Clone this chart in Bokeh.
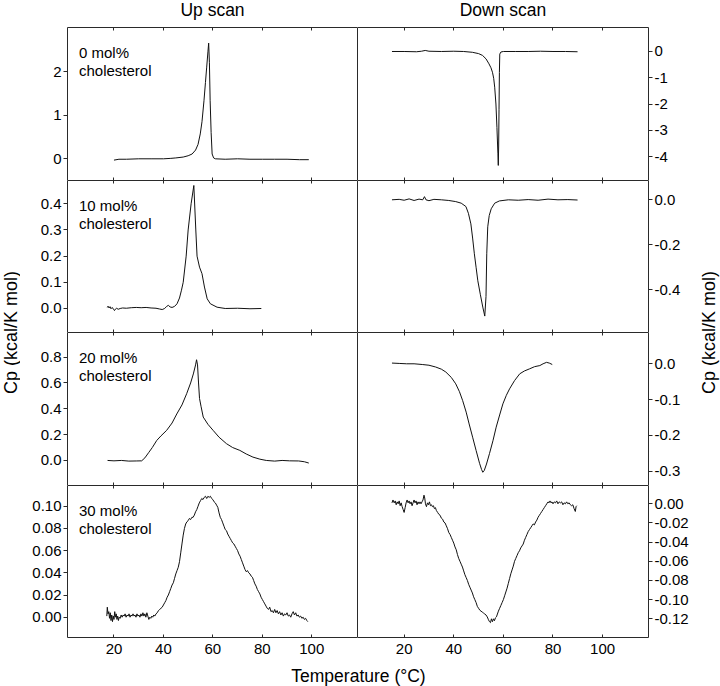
import math
from bokeh.plotting import figure
from bokeh.models import Range1d, LinearAxis, FixedTicker, NumeralTickFormatter
from bokeh.layouts import gridplot, row, column
from bokeh.core.properties import value
from bokeh.embed import file_html
from bokeh.resources import INLINE

FONT = "Liberation Sans"
LINE = "#2a2a2a"

# ---------------- data ----------------
X_RANGE = (1.2, 118.5)
X_TICKS = [20, 40, 60, 80, 100]

col_titles = ["Up scan", "Down scan"]
panel_labels = ["0 mol%", "10 mol%", "20 mol%", "30 mol%"]
y_label = "Cp (kcal/K mol)"
x_label = "Temperature (\u00b0C)"

# 0 mol% up scan
t_up0 = [20, 22, 25, 30, 35, 40, 43, 45, 48, 50, 51.6, 53, 54, 54.9, 55.6, 56.4, 57.0, 57.5,
         58.0, 58.3, 58.6, 58.9, 59.3, 59.7, 60.3, 61, 65, 70, 75, 80, 85, 90, 95, 98.8]
cp_up0 = [-0.03, -0.01, -0.01, 0.0, 0.0, 0.0, 0.01, 0.02, 0.04, 0.07, 0.11, 0.2, 0.33, 0.57, 0.85,
          1.33, 1.75, 2.1, 2.45, 2.65, 2.2, 1.33, 0.6, 0.11, 0.02, 0.0, -0.01, 0.0, -0.01, -0.01,
          -0.01, -0.01, -0.02, -0.02]

# 0 mol% down scan
t_dn0 = [15.1, 20, 25, 27, 28.5, 30, 35, 40, 44, 47.5, 50, 51.6, 53, 54.2, 55, 55.6, 56.1, 56.5,
         57.0, 57.4, 57.8, 57.95, 58.1, 58.25, 58.4, 58.55, 59, 60, 65, 70, 75, 80, 85, 89.9]
cp_dn0 = [0.0, 0.0, -0.01, 0.01, 0.04, 0.01, 0.0, 0.01, 0.0, -0.03, -0.08, -0.15, -0.28, -0.47,
          -0.62, -0.79, -1.02, -1.36, -2.0, -2.89, -3.9, -4.34, -3.6, -2.2, -0.8, -0.1, -0.02,
          0.0, 0.0, 0.0, 0.01, 0.0, 0.0, -0.01]

# 10 mol% up scan
t_up10 = [17.3, 17.6, 18.0, 18.4, 18.8, 19.3, 19.8, 20.2, 20.6, 21.1, 21.7, 22.5, 23.5, 25, 27,
          29, 31, 33, 35, 37, 38.5, 39.5, 40.5, 41.3, 42, 42.7, 43.5, 44.5, 45.5, 46.5, 47.3,
          48.0, 49.2, 50.0, 51.2, 52.3, 53.1, 53.6, 54.6, 55.6, 56.6, 57.7, 59.0, 61.7, 65, 70,
          75, 79.6]
cp_up10 = [0.004, 0.009, 0.002, 0.007, -0.001, 0.004, -0.003, -0.008, -0.002, 0.001, -0.003, 0.0,
           0.002, 0.001, 0.003, 0.004, 0.003, 0.004, 0.002, 0.001, -0.002, -0.004, 0.0, 0.008,
           0.012, 0.006, 0.004, 0.008, 0.018, 0.04, 0.07, 0.1, 0.2, 0.3, 0.4, 0.47, 0.3, 0.2,
           0.158, 0.133, 0.082, 0.037, 0.018, 0.005, 0.0, 0.001, -0.001, 0.0]

# 10 mol% down scan
t_dn10 = [15.1, 18, 20, 22, 24, 26, 27.5, 28.2, 28.8, 30, 32, 35, 38, 40.8, 43, 44.9, 45.9, 46.9,
          47.6, 48.3, 49.0, 49.7, 50.7, 51.7, 52.5, 53.0, 53.3, 53.7, 54.3, 55.1, 56.5, 58.4, 62,
          66, 70, 74, 78, 82, 86, 89.9]
cp_dn10 = [0.0, 0.002, -0.002, 0.004, -0.003, 0.003, 0.0, 0.014, 0.0, -0.004, 0.002, 0.0, -0.003,
           -0.008, -0.015, -0.03, -0.06, -0.107, -0.17, -0.24, -0.3, -0.36, -0.42, -0.477,
           -0.517, -0.43, -0.24, -0.12, -0.07, -0.04, -0.015, -0.005, 0.0, -0.002, 0.001, -0.002,
           0.003, 0.0, 0.001, -0.001]

# 20 mol% up scan
t_up20 = [17.4, 20, 23, 26, 29, 31.2, 32.5, 34, 35.5, 37.3, 39, 41.3, 43.5, 45.4, 47.5, 49.4, 51,
          52.1, 53, 53.4, 53.8, 54.2, 54.6, 55.2, 56.1, 58, 60.1, 62.5, 65.5, 68, 70.9, 73.5,
          76.2, 79, 81.6, 85, 88, 91, 94.7, 97, 98.8]
cp_up20 = [0.0, -0.003, 0.0, -0.005, -0.004, -0.003, 0.02, 0.06, 0.1, 0.155, 0.19, 0.233, 0.29,
           0.36, 0.43, 0.517, 0.6, 0.67, 0.74, 0.78, 0.74, 0.6, 0.48, 0.42, 0.336, 0.28, 0.233,
           0.18, 0.13, 0.1, 0.078, 0.05, 0.026, 0.01, 0.0, -0.005, 0.0, -0.003, -0.004, -0.01,
           -0.02]

# 20 mol% down scan
t_dn20 = [15.1, 18, 21, 24, 27.3, 30, 32.7, 35, 36.8, 39, 40.8, 42.3, 43.6, 45, 46.2, 47.6, 49.0,
          50.4, 51.2, 51.7, 52.3, 53.2, 54.4, 55.8, 57.1, 58.5, 59.8, 61.2, 62.5, 64.5, 66.6,
          68.5, 70.6, 72.6, 74.7, 76, 77.4, 78.5, 79.7]
cp_dn20 = [0.002, 0.001, 0.0, 0.0, -0.002, -0.004, -0.009, -0.015, -0.023, -0.038, -0.056,
           -0.078, -0.103, -0.135, -0.168, -0.205, -0.242, -0.278, -0.295, -0.303, -0.298, -0.28,
           -0.251, -0.215, -0.177, -0.143, -0.112, -0.088, -0.07, -0.047, -0.028, -0.02, -0.014,
           -0.008, -0.005, 0.0, 0.004, 0.002, -0.002]

# 30 mol% up scan
t_up30 = [17.1, 17.3, 17.6, 17.9, 18.2, 18.5, 18.8, 19.1, 19.4, 19.7, 20.0, 20.3, 20.6, 20.9,
          21.2, 21.5, 21.8, 22.1, 22.5, 22.9, 23.3, 23.7, 24.1, 24.5, 24.9, 25.3, 25.7, 26.1,
          26.5, 26.9, 27.3, 27.7, 28.1, 28.5, 28.9, 29.3, 29.7, 30.1, 30.5, 30.9, 31.3, 31.7,
          32.1, 32.5, 32.9, 33.3, 33.7, 34.1, 34.5, 34.9, 35.3, 35.7, 36.1, 36.5, 37.0, 37.5,
          38.0, 38.5, 39.0, 39.5, 40.0, 40.5, 41.0, 41.5, 42.0, 42.5, 43.0, 43.5, 44.0, 44.5,
          45.0, 45.5, 46.0, 46.5, 47.0, 47.5, 48.0, 48.5, 49.0, 49.5, 50.0, 50.5, 51.0, 51.5,
          52.0, 52.5, 53.0, 53.5, 54.0, 54.5, 55.0, 55.5, 56.0, 56.5, 57.0, 57.5, 58.0, 58.5,
          59.0, 59.5, 60.0, 60.5, 61.0, 61.5, 62.0, 62.5, 63.0, 63.5, 64.0, 64.5, 65.0, 65.5,
          66.0, 66.5, 67.0, 67.5, 68.0, 68.5, 69.0, 69.5, 70.0, 70.5, 71.0, 71.5, 72.0, 72.5,
          73.0, 73.5, 74.0, 74.5, 75.0, 75.5, 76.0, 76.5, 77.0, 77.5, 78.0, 78.5, 79.0, 79.5,
          80.0, 80.5, 81.0, 81.5, 82.0, 82.5, 83.0, 83.5, 84.0, 84.5, 85.0, 85.5, 86.0, 86.5,
          87.0, 87.5, 88.0, 88.5, 89.0, 89.5, 90.0, 90.5, 91.0, 91.5, 92.0, 92.5, 93.0, 93.5,
          94.0, 94.5, 95.0, 95.5, 96.0, 96.5, 97.0, 97.5, 98.0, 98.4]
cp_up30 = [0.001, 0.009, 0.003, 0.005, -0.001, 0.004, -0.003, 0.002, -0.004, 0.001, -0.002, 0.005,
           0.0, 0.003, -0.002, 0.001, -0.003, 0.0, -0.001, 0.002, 0.0, 0.002, 0.001, 0.003, 0.0,
           0.002, 0.001, 0.003, 0.0, 0.002, 0.001, 0.003, 0.001, 0.002, 0.0, 0.003, 0.001, 0.002,
           0.0, 0.003, 0.001, 0.004, 0.001, 0.003, 0.0, 0.004, 0.001, -0.002, 0.0, -0.001, 0.001,
           0.0, 0.002, 0.001, 0.003, 0.004, 0.006, 0.007, 0.008, 0.009, 0.011, 0.013, 0.015,
           0.018, 0.02, 0.023, 0.026, 0.029, 0.031, 0.035, 0.039, 0.042, 0.045, 0.05, 0.058,
           0.066, 0.074, 0.08, 0.084, 0.086, 0.087, 0.089, 0.088, 0.09, 0.09, 0.092, 0.095, 0.097,
           0.1, 0.103, 0.105, 0.107, 0.106, 0.108, 0.109, 0.107, 0.109, 0.108, 0.109, 0.107,
           0.106, 0.104, 0.103, 0.101, 0.099, 0.094, 0.09, 0.088, 0.085, 0.082, 0.079, 0.078,
           0.075, 0.073, 0.071, 0.069, 0.067, 0.066, 0.064, 0.062, 0.06, 0.057, 0.055, 0.052,
           0.049, 0.046, 0.043, 0.041, 0.042, 0.04, 0.039, 0.037, 0.036, 0.033, 0.03, 0.028,
           0.025, 0.023, 0.021, 0.018, 0.016, 0.014, 0.012, 0.01, 0.008, 0.007, 0.009, 0.005,
           0.006, 0.004, 0.007, 0.004, 0.006, 0.003, 0.005, 0.002, 0.004, 0.001, 0.003, 0.002,
           0.004, 0.001, 0.002, 0.0, 0.003, 0.005, 0.002, 0.004, 0.001, 0.002, 0.0, 0.001,
           -0.001, 0.0, -0.002, -0.001, -0.003, -0.004]

# 30 mol% down scan
t_dn30 = [15.1, 15.5, 16.0, 16.4, 16.8, 17.2, 17.6, 18.0, 18.4, 18.8, 19.2, 19.6, 20.0, 20.4,
          20.8, 21.2, 21.6, 22.0, 22.4, 22.8, 23.2, 23.6, 24.0, 24.4, 24.8, 25.2, 25.6, 26.0,
          26.4, 26.8, 27.2, 27.6, 28.0, 28.3, 28.6, 29.0, 29.4, 29.8, 30.2, 30.6, 31.0, 31.4,
          31.8, 32.2, 32.6, 33.0, 33.5, 34.0, 34.5, 35.0, 35.5, 36.0, 36.5, 37.0, 37.5, 38.0,
          38.5, 39.0, 39.5, 40.0, 40.5, 41.0, 41.5, 42.0, 42.5, 43.0, 43.5, 44.0, 44.5, 45.0,
          45.5, 46.0, 46.5, 47.0, 47.5, 48.0, 48.5, 49.0, 49.5, 50.0, 50.5, 51.0, 51.5, 52.0,
          52.5, 53.0, 53.5, 54.0, 54.4, 54.8, 55.2, 55.6, 56.0, 56.4, 56.8, 57.2, 57.6, 58.0,
          58.5, 59.0, 59.5, 60.0, 60.5, 61.0, 61.5, 62.0, 62.5, 63.0, 63.5, 64.0, 64.5, 65.0,
          65.5, 66.0, 66.5, 67.0, 67.5, 68.0, 68.5, 69.0, 69.5, 70.0, 70.5, 71.0, 71.5, 72.0,
          72.5, 73.0, 73.5, 74.0, 74.5, 75.0, 75.5, 76.0, 76.5, 77.0, 77.5, 78.0, 78.4, 78.8,
          79.2, 79.6, 80.0, 80.5, 81.0, 81.5, 82.0, 82.5, 83.0, 83.5, 84.0, 84.5, 85.0, 85.5,
          86.0, 86.5, 87.0, 87.5, 88.0, 88.5, 89.0, 89.3, 89.6]
cp_dn30 = [0.001, 0.004, 0.001, 0.003, -0.001, 0.002, 0.0, 0.003, -0.002, 0.001, -0.003, -0.006,
           -0.009, -0.004, 0.001, 0.004, 0.001, 0.003, 0.0, 0.002, -0.002, 0.001, 0.004, 0.001,
           0.003, -0.001, 0.002, 0.0, 0.002, 0.0, 0.002, 0.004, 0.009, 0.006, 0.0, -0.003, 0.001,
           -0.001, 0.002, -0.002, -0.001, -0.003, -0.002, -0.005, -0.004, -0.007, -0.009, -0.011,
           -0.012, -0.015, -0.016, -0.019, -0.02, -0.023, -0.026, -0.03, -0.032, -0.035, -0.038,
           -0.041, -0.045, -0.048, -0.053, -0.057, -0.06, -0.063, -0.066, -0.07, -0.074, -0.077,
           -0.08, -0.084, -0.087, -0.09, -0.093, -0.097, -0.1, -0.103, -0.107, -0.109, -0.111,
           -0.112, -0.113, -0.114, -0.115, -0.116, -0.118, -0.121, -0.123, -0.124, -0.12, -0.123,
           -0.12, -0.122, -0.119, -0.118, -0.115, -0.112, -0.109, -0.106, -0.103, -0.1, -0.096,
           -0.092, -0.088, -0.083, -0.078, -0.073, -0.069, -0.065, -0.06, -0.057, -0.054, -0.051,
           -0.049, -0.046, -0.044, -0.042, -0.038, -0.035, -0.032, -0.029, -0.027, -0.025,
           -0.023, -0.021, -0.022, -0.019, -0.017, -0.014, -0.012, -0.01, -0.008, -0.006, -0.004,
           -0.002, 0.0, 0.002, 0.001, 0.003, 0.001, 0.002, 0.0, 0.002, 0.001, 0.003, 0.0, 0.002,
           0.001, 0.002, -0.001, 0.001, 0.0, 0.002, 0.0, 0.001, -0.001, -0.002, -0.001, -0.005,
           -0.008, -0.003, -0.002]

# axis ranges / ticks per panel: (up scan, down scan) for each row
y_ranges = [((-0.497, 3.008), (-4.914, 0.914)),
            ((-0.0917, 0.489), (-0.590, 0.0858)),
            ((-0.194, 0.991), (-0.340, 0.0874)),
            ((-0.0183, 0.1187), (-0.1395, 0.0191))]
y_ticks = [([0, 1, 2], [0, -1, -2, -3, -4]),
           ([0.0, 0.1, 0.2, 0.3, 0.4], [0.0, -0.2, -0.4]),
           ([0.0, 0.2, 0.4, 0.6, 0.8], [0.0, -0.1, -0.2, -0.3]),
           ([0.0, 0.02, 0.04, 0.06, 0.08, 0.10], [0.0, -0.02, -0.04, -0.06, -0.08, -0.10, -0.12])]
y_formats = [("0", "0"), ("0.0", "0.0"), ("0.0", "0.0"), ("0.00", "0.00")]
series = [((t_up0, cp_up0), (t_dn0, cp_dn0)),
          ((t_up10, cp_up10), (t_dn10, cp_dn10)),
          ((t_up20, cp_up20), (t_dn20, cp_dn20)),
          ((t_up30, cp_up30), (t_dn30, cp_dn30))]

# ---------------- layout ----------------
FRAME_H = [153, 152, 153, 152]
FRAME_W = [290, 291]
B_LEFT = 47
B_RIGHT = 50
B_BOTTOM = 25
HEADER_H = 27
FOOTER_H = 24
YLAB_L_W = 20
YLAB_R_W = 22


def blank(w, h):
    f = figure(width=w, height=h, x_range=Range1d(0, w), y_range=Range1d(0, h),
               output_backend="svg", toolbar_location=None,
               x_axis_location=None, y_axis_location=None,
               min_border=0, outline_line_color=None)
    f.grid.grid_line_color = None
    return f


def bare_axis(ticks, line_color, tick_in=3):
    return LinearAxis(ticker=FixedTicker(ticks=ticks), major_tick_in=tick_in, major_tick_out=0,
                      major_label_text_color=None, major_label_text_font_size="1px",
                      major_label_standoff=0, axis_line_color=line_color,
                      major_tick_line_color=LINE, minor_tick_line_color=None)


def panel(r, c):
    left = c == 0
    bottom = r == 3
    fw = FRAME_W[c]
    fh = FRAME_H[r]
    bl = B_LEFT if left else 0
    br = 0 if left else B_RIGHT
    bb = B_BOTTOM if bottom else 0
    yr = y_ranges[r][c]
    p = figure(width=fw + bl + br, height=fh + bb,
               x_range=Range1d(*X_RANGE), y_range=Range1d(*yr),
               output_backend="svg", toolbar_location=None,
               x_axis_location=None, y_axis_location=None,
               min_border_left=bl, min_border_right=br, min_border_top=0,
               min_border_bottom=bb, outline_line_color=None,
               background_fill_color="white", border_fill_color="white")
    p.grid.grid_line_color = None
    xs, ys = series[r][c]
    p.line(xs, ys, line_color="#111111", line_width=1)

    # top edge with inward ticks
    p.add_layout(bare_axis(X_TICKS, LINE), "above")
    # bottom edge
    if bottom:
        bot_ax = LinearAxis(ticker=FixedTicker(ticks=X_TICKS), major_tick_in=3, major_tick_out=0,
                            formatter=NumeralTickFormatter(format="0"),
                            major_label_text_font=FONT, major_label_text_font_size="15px",
                            major_label_text_color="black", major_label_standoff=6,
                            axis_line_color=LINE, major_tick_line_color=LINE,
                            minor_tick_line_color=None)
        p.add_layout(bot_ax, "below")
    else:
        p.add_layout(bare_axis(X_TICKS, None), "below")
    if not left:
        # shared vertical edge between the two columns
        p.add_layout(bare_axis([], LINE, tick_in=0), "left")
    y_ax = LinearAxis(ticker=FixedTicker(ticks=y_ticks[r][c]),
                      formatter=NumeralTickFormatter(format=y_formats[r][c]),
                      major_tick_in=0, major_tick_out=4, major_label_standoff=2,
                      major_label_text_font=FONT, major_label_text_font_size="15px",
                      major_label_text_color="black",
                      axis_line_color=LINE, major_tick_line_color=LINE,
                      minor_tick_line_color=None)
    p.add_layout(y_ax, "left" if left else "right")

    # panel label
    if left:
        xl = X_RANGE[0] + 11.5 * (X_RANGE[1] - X_RANGE[0]) / fw
        y1 = yr[1] - 24.5 * (yr[1] - yr[0]) / fh
        y2 = yr[1] - 42.5 * (yr[1] - yr[0]) / fh
        p.text(x=[xl, xl], y=[y1, y2], text=[panel_labels[r], "cholesterol"],
               text_font=value(FONT), text_font_size="15px", text_color="black",
               text_align="left", text_baseline="alphabetic")
    return p


grid_rows = [[panel(r, 0), panel(r, 1)] for r in range(4)]
grid = gridplot(grid_rows, toolbar_location=None)

GRID_W = FRAME_W[0] + B_LEFT + FRAME_W[1] + B_RIGHT
TOTAL_H = HEADER_H + sum(FRAME_H) + B_BOTTOM + FOOTER_H

header = blank(GRID_W, HEADER_H)
header.text(x=[B_LEFT + FRAME_W[0] / 2, B_LEFT + FRAME_W[0] + FRAME_W[1] / 2], y=[18, 18],
            text=col_titles, text_font=value(FONT), text_font_size="17.5px",
            text_color="black", text_align="center", text_baseline="middle")
footer = blank(GRID_W, FOOTER_H)
footer.text(x=[B_LEFT + FRAME_W[0] + 1], y=[11], text=[x_label], text_font=value(FONT),
            text_font_size="17.5px", text_color="black", text_align="center",
            text_baseline="middle")

ylab_l = blank(YLAB_L_W, TOTAL_H)
ylab_l.text(x=[10], y=[TOTAL_H - 332], text=[y_label], angle=math.pi / 2,
            text_font=value(FONT), text_font_size="18px", text_color="black",
            text_align="center", text_baseline="middle")
ylab_r = blank(YLAB_R_W, TOTAL_H)
ylab_r.text(x=[10], y=[TOTAL_H - 332], text=[y_label], angle=math.pi / 2,
            text_font=value(FONT), text_font_size="18px", text_color="black",
            text_align="center", text_baseline="middle")

layout = row(ylab_l, column(header, grid, footer), ylab_r)

open("out.html", "w").write(file_html(layout, INLINE))
